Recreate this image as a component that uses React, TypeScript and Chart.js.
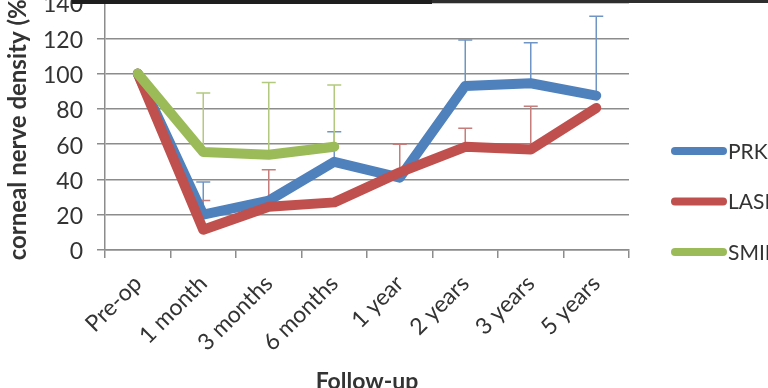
import { useEffect, useRef } from 'react';
import { Chart, registerables } from 'chart.js';

Chart.register(...registerables);

const categories = ['Pre-op', '1 month', '3 months', '6 months', '1 year', '2 years', '3 years', '5 years'];
const seriesNames = ['PRK', 'LASIK', 'SMILE'];
const prkValues = [100, 20, 28, 50, 41, 93, 94.5, 87.5];
const lasikValues = [100, 11.5, 24.5, 27, 44, 58.5, 57, 80.5];
const smileValues = [100, 55.5, 54, 58.5, null, null, null, null];
const prkUpper = [null, 38.5, null, 67, null, 119, 117.5, 132.5];
const lasikUpper = [null, 28, 45.5, null, 60, 69, 81.5, null];
const smileUpper = [null, 89, 95, 93.5, null, null, null, null];
const yMin = 0;
const yMax = 140;
const yStep = 20;
const xTitle = 'Follow-up';
const yTitle = 'corneal nerve density (%)';

const BLUE = '#4F81BD';
const RED = '#C0504D';
const GREEN = '#9BBB59';
const GRID = '#8c8c8c';
const TEXT = '#333333';

const SHIFT = 25;
const CW = 800;
const CH = 400 + SHIFT;
const PLOT_TOP = 3 + SHIFT;
const PLOT_BOTTOM = 250 + SHIFT;

const errorBarPlugin = {
  id: 'errorBars',
  beforeDatasetsDraw(chart: any) {
    const ctx = chart.ctx;
    const ys = chart.scales.y;
    chart.data.datasets.forEach((ds: any, i: number) => {
      const uppers = ds.errorUpper;
      if (!uppers) return;
      const meta = chart.getDatasetMeta(i);
      ctx.save();
      ctx.strokeStyle = ds.errorColor;
      ctx.lineWidth = 1.5;
      uppers.forEach((u: number | null, j: number) => {
        if (u == null || ds.data[j] == null) return;
        const pt = meta.data[j];
        const x = pt.x;
        const y0 = pt.y;
        const y1 = ys.getPixelForValue(u);
        ctx.beginPath();
        ctx.moveTo(x, y0);
        ctx.lineTo(x, y1);
        ctx.moveTo(x - 7, y1);
        ctx.lineTo(x + 7, y1);
        ctx.stroke();
      });
      ctx.restore();
    });
  },
};

const legendPlugin = {
  id: 'customLegend',
  afterDraw(chart: any) {
    const ctx = chart.ctx;
    const x0 = 675;
    const x1 = 723;
    const yStart = 151 + SHIFT;
    const gap = 50.5;
    const items = chart.data.datasets.slice().sort((a: any, b: any) => a.legendIndex - b.legendIndex);
    items.forEach((ds: any, k: number) => {
      const y = yStart + k * gap;
      ctx.save();
      ctx.strokeStyle = ds.borderColor;
      ctx.lineWidth = 8;
      ctx.lineCap = 'round';
      ctx.beginPath();
      ctx.moveTo(x0, y);
      ctx.lineTo(x1, y);
      ctx.stroke();
      ctx.fillStyle = TEXT;
      ctx.font = '21px Lato';
      ctx.textBaseline = 'middle';
      ctx.textAlign = 'left';
      ctx.fillText(ds.label, x1 + 5, y + 1);
      ctx.restore();
    });
  },
};

export default function App() {
  const ref = useRef<HTMLCanvasElement | null>(null);

  useEffect(() => {
    if (!ref.current) return;
    Chart.defaults.font.family = 'Lato';
    const mk = (label: string, data: any[], color: string, upper: any[], errColor: string, order: number, legendIndex: number) => ({
      label,
      data,
      borderColor: color,
      backgroundColor: color,
      borderWidth: 10,
      borderCapStyle: 'round',
      borderJoinStyle: 'round',
      pointRadius: 0,
      pointHoverRadius: 0,
      tension: 0,
      fill: false,
      spanGaps: false,
      order,
      errorUpper: upper,
      errorColor: errColor,
      legendIndex,
    });
    const chart = new Chart(ref.current, {
      type: 'line',
      data: {
        labels: categories,
        datasets: [
          mk(seriesNames[0], prkValues, BLUE, prkUpper, '#6f95c6', 3, 0),
          mk(seriesNames[1], lasikValues, RED, lasikUpper, '#c77d7a', 2, 1),
          mk(seriesNames[2], smileValues, GREEN, smileUpper, '#b3c97f', 1, 2),
        ] as any,
      },
      options: {
        responsive: false,
        animation: false,
        devicePixelRatio: 1,
        layout: { padding: { top: PLOT_TOP, right: CW - 629, left: 0, bottom: 0 } },
        plugins: { legend: { display: false }, tooltip: { enabled: false } },
        scales: {
          x: {
            type: 'category',
            offset: true,
            grid: { display: true, drawOnChartArea: false, drawTicks: true, tickLength: 8, color: GRID, lineWidth: 1.5, offset: true },
            border: { display: true, color: GRID, width: 1.5 },
            ticks: { minRotation: 45, maxRotation: 45, padding: 12, autoSkip: false, font: { size: 23 }, color: TEXT },
            title: { display: true, text: xTitle, font: { size: 23, weight: 'bold' }, color: TEXT, padding: { top: 0, bottom: 5 } },
            afterFit: (s: any) => { s.height = CH - PLOT_BOTTOM; },
          },
          y: {
            min: yMin,
            max: yMax,
            ticks: { stepSize: yStep, padding: 14, labelOffset: 2, font: { size: 23 }, color: TEXT },
            grid: { color: GRID, lineWidth: 1.5, tickLength: 8 },
            border: { color: GRID, width: 1.5 },
            title: { display: true, text: yTitle, font: { size: 24, weight: 'bold' }, color: TEXT, padding: { top: 4, bottom: 0 } },
            afterFit: (s: any) => { s.width = 105; },
          },
        },
      } as any,
      plugins: [errorBarPlugin, legendPlugin],
    });
    if ((document as any).fonts && (document as any).fonts.load) {
      Promise.all([
        (document as any).fonts.load('23px Lato'),
        (document as any).fonts.load('bold 23px Lato'),
      ]).then(() => chart.update()).catch(() => {});
    }
    return () => chart.destroy();
  }, []);

  return (
    <div style={{ position: 'fixed', left: 0, top: 0, width: 768, height: 388, overflow: 'hidden', background: '#fff' }}>
      <canvas ref={ref} width={CW} height={CH} style={{ position: 'absolute', left: 0, top: -SHIFT, width: CW, height: CH }} />
      <div style={{ position: 'absolute', left: 72, top: 0, width: 360, height: 4, background: '#1e1e1e' }} />
      <div style={{ position: 'absolute', left: 432, top: 0, width: 336, height: 3, background: '#2e2e2e' }} />
    </div>
  );
}
